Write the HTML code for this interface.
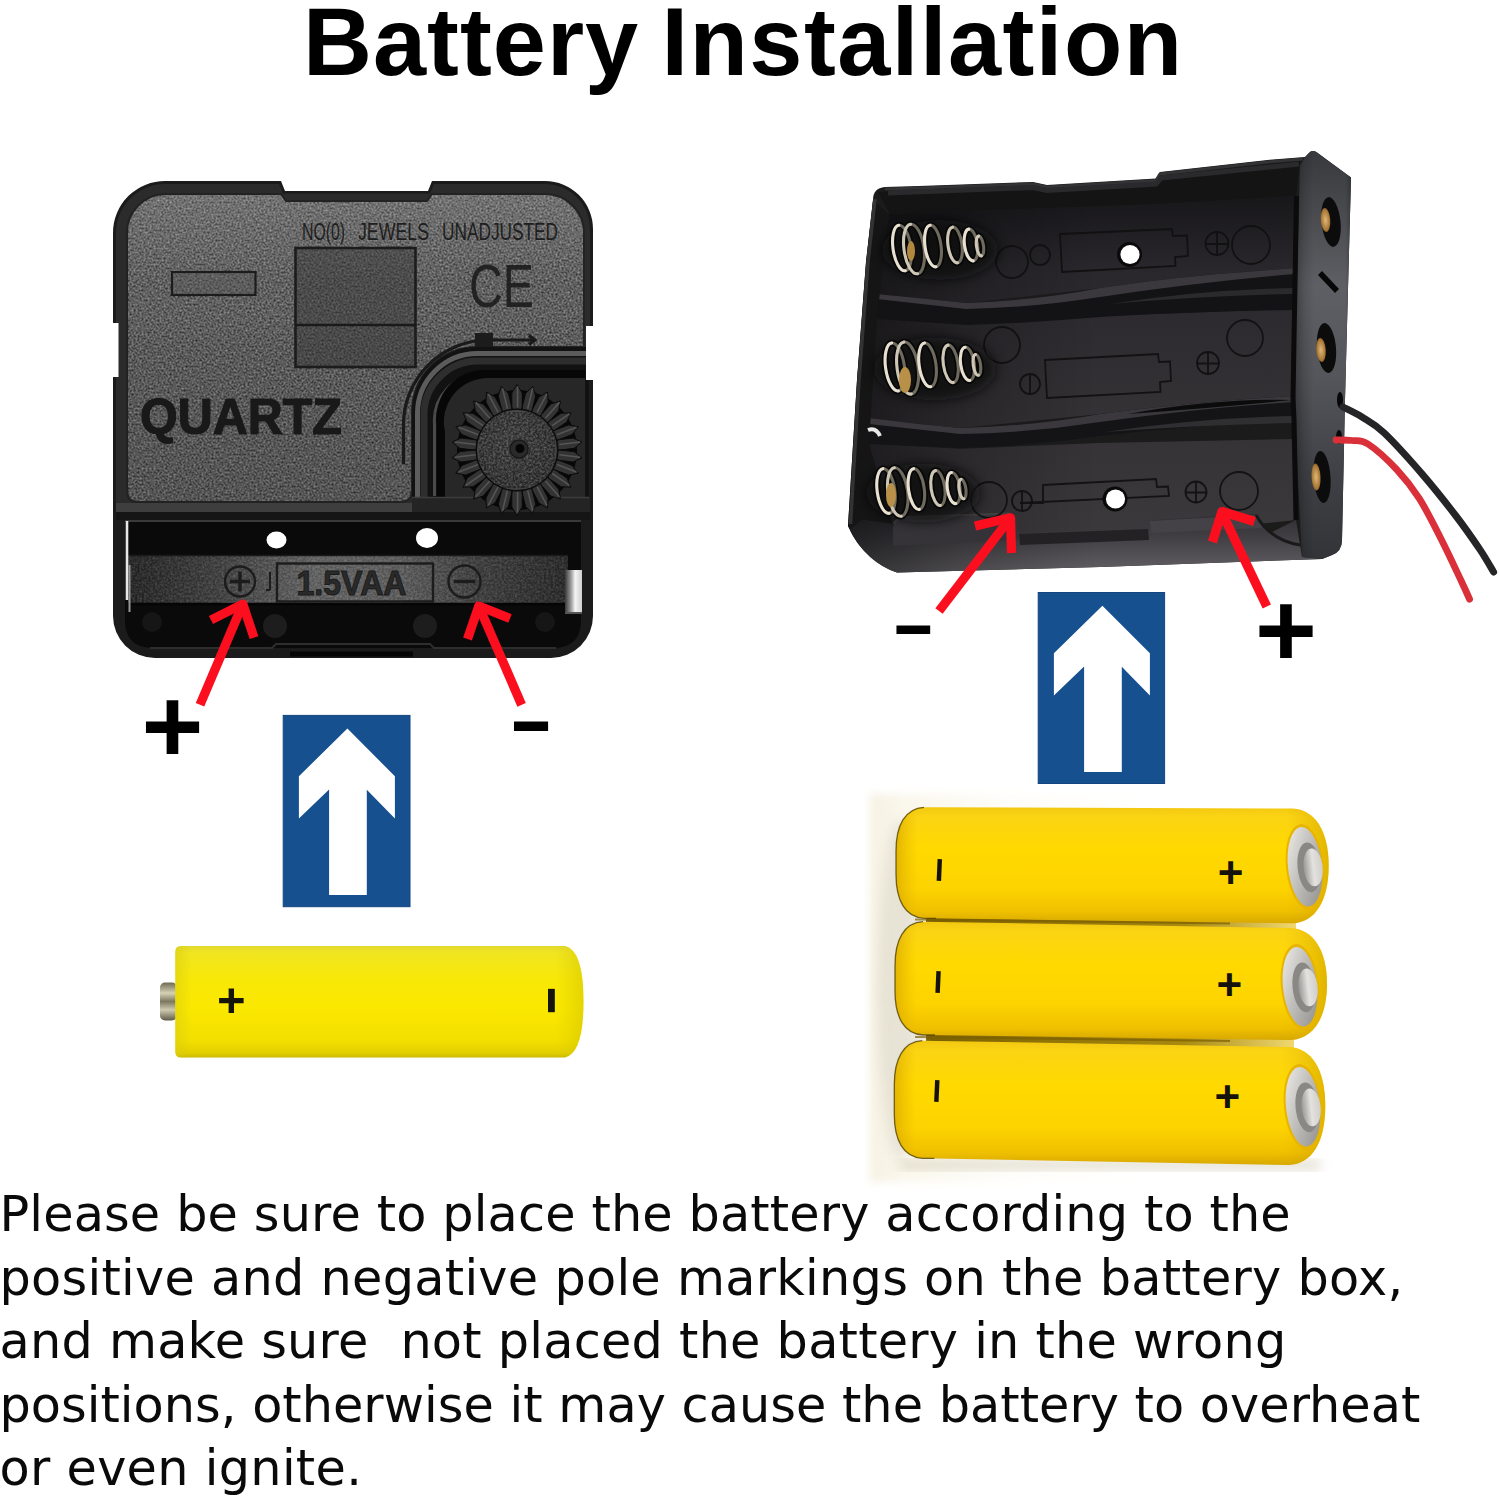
<!DOCTYPE html>
<html lang="en">
<head>
<meta charset="utf-8">
<title>Battery Installation</title>
<style>
html,body{margin:0;padding:0;background:#fff;}
body{width:1500px;height:1500px;position:relative;overflow:hidden;font-family:"Liberation Sans",sans-serif;}
#art{position:absolute;left:0;top:0;width:1500px;height:1500px;display:block;}
h1{position:absolute;left:303px;top:-13px;margin:0;font:bold 95.5px/110px "Liberation Sans",sans-serif;letter-spacing:1.02px;color:#000;white-space:nowrap;}
h1 span{letter-spacing:1.5px;}
h1{word-spacing:-5.3px;}
.ln{position:absolute;left:-0.5px;margin:0;font:49.3px/64px "DejaVu Sans","Liberation Sans",sans-serif;color:#0a0a0a;white-space:pre;}
</style>
</head>
<body>
<svg id="art" viewBox="0 0 1500 1500" width="1500" height="1500">
<defs>
<!--DEFS-->
<filter id="grain" x="0" y="0" width="100%" height="100%" color-interpolation-filters="sRGB">
<feTurbulence type="fractalNoise" baseFrequency="0.5" numOctaves="4" seed="7"/>
<feColorMatrix type="matrix" values="0.58 0 0 0 0.08  0.58 0 0 0 0.08  0.58 0 0 0 0.08  0 0 0 0 1"/>
</filter>
<filter id="grainD" x="0" y="0" width="100%" height="100%" color-interpolation-filters="sRGB">
<feTurbulence type="fractalNoise" baseFrequency="0.45" numOctaves="3" seed="11"/>
<feColorMatrix type="matrix" values="0.9 0 0 0 -0.28  0.9 0 0 0 -0.28  0.9 0 0 0 -0.28  0 0 0 0 1"/>
</filter>
<clipPath id="faceClip"><path d="M166 194 H281 L286 201 H427 L432 194 H545 A39 39 0 0 1 584 233 V347 H477 A65 65 0 0 0 412 412 V490 Q412 502 400 502 H137 Q127 502 127 490 V235 A39 39 0 0 1 166 194Z"/></clipPath>
<clipPath id="stripClip"><rect x="128" y="555" width="440" height="50"/></clipPath>
<linearGradient id="stripG" x1="0" y1="0" x2="1" y2="0"><stop offset="0" stop-color="#2a2a2a"/><stop offset="0.2" stop-color="#4c4c4c"/><stop offset="0.42" stop-color="#7a7a7a"/><stop offset="0.62" stop-color="#727272"/><stop offset="0.8" stop-color="#4a4a4a"/><stop offset="1" stop-color="#303030"/></linearGradient>
<clipPath id="hubClip"><circle cx="517" cy="450" r="40"/></clipPath>
<linearGradient id="faceShade" x1="0" y1="0" x2="0" y2="1">
<stop offset="0" stop-color="#fff" stop-opacity="0.13"/><stop offset="0.3" stop-color="#fff" stop-opacity="0.01"/><stop offset="0.5" stop-color="#000" stop-opacity="0.04"/><stop offset="1" stop-color="#000" stop-opacity="0.11"/>
</linearGradient>
<linearGradient id="silver" x1="0" y1="0" x2="1" y2="0">
<stop offset="0" stop-color="#3a3a3a"/><stop offset="0.35" stop-color="#9a9a9a"/><stop offset="0.6" stop-color="#f4f4f4"/><stop offset="1" stop-color="#cfcfcf"/>
</linearGradient>
<radialGradient id="hubG" cx="0.45" cy="0.4" r="0.7"><stop offset="0" stop-color="#585858"/><stop offset="1" stop-color="#3c3c3c"/></radialGradient>

<linearGradient id="boxFloor" gradientUnits="userSpaceOnUse" x1="0" y1="200" x2="0" y2="540"><stop offset="0" stop-color="#18171a"/><stop offset="0.2" stop-color="#29272b"/><stop offset="0.6" stop-color="#343135"/><stop offset="1" stop-color="#3c393d"/></linearGradient>
<linearGradient id="boxShadeL" gradientUnits="userSpaceOnUse" x1="850" y1="0" x2="1300" y2="0"><stop offset="0" stop-color="#000" stop-opacity="0.5"/><stop offset="0.25" stop-color="#000" stop-opacity="0.22"/><stop offset="0.55" stop-color="#000" stop-opacity="0"/><stop offset="1" stop-color="#000" stop-opacity="0"/></linearGradient>
<linearGradient id="boxFront" gradientUnits="userSpaceOnUse" x1="0" y1="512" x2="0" y2="572"><stop offset="0" stop-color="#2e2c30"/><stop offset="0.4" stop-color="#403e42"/><stop offset="1" stop-color="#626064"/></linearGradient>
<linearGradient id="panelG" x1="0" y1="0" x2="0" y2="1"><stop offset="0" stop-color="#38393d"/><stop offset="0.12" stop-color="#46474b"/><stop offset="0.33" stop-color="#5e5f64"/><stop offset="0.55" stop-color="#55565b"/><stop offset="0.8" stop-color="#3f4045"/><stop offset="1" stop-color="#333438"/></linearGradient>
<linearGradient id="panelH" x1="0" y1="0" x2="1" y2="0"><stop offset="0" stop-color="#000" stop-opacity="0.35"/><stop offset="0.18" stop-color="#000" stop-opacity="0.12"/><stop offset="0.35" stop-color="#000" stop-opacity="0"/><stop offset="0.9" stop-color="#000" stop-opacity="0"/><stop offset="1" stop-color="#000" stop-opacity="0.2"/></linearGradient>
<radialGradient id="brass" cx="0.5" cy="0.5" r="0.6"><stop offset="0" stop-color="#e0b878"/><stop offset="0.7" stop-color="#a87838"/><stop offset="1" stop-color="#5a3c10"/></radialGradient>

<linearGradient id="yelL" x1="0" y1="0" x2="0" y2="1">
<stop offset="0" stop-color="#e2d930"/><stop offset="0.06" stop-color="#f0e520"/><stop offset="0.3" stop-color="#f8e808"/><stop offset="0.55" stop-color="#fbe800"/><stop offset="0.85" stop-color="#f3df00"/><stop offset="0.96" stop-color="#e3cf00"/><stop offset="1" stop-color="#c9b800"/>
</linearGradient>
<linearGradient id="yelLend" x1="0" y1="0" x2="1" y2="0">
<stop offset="0" stop-color="#d8cc10" stop-opacity="0.55"/><stop offset="0.04" stop-color="#d8cc10" stop-opacity="0"/><stop offset="0.93" stop-color="#d8c800" stop-opacity="0"/><stop offset="1" stop-color="#cfc000" stop-opacity="0.5"/>
</linearGradient>
<linearGradient id="nubG" x1="0" y1="0" x2="0" y2="1">
<stop offset="0" stop-color="#6e6a55"/><stop offset="0.28" stop-color="#d6d2b6"/><stop offset="0.5" stop-color="#7c7860"/><stop offset="0.72" stop-color="#cfcbb0"/><stop offset="1" stop-color="#5e5a48"/>
</linearGradient>
<linearGradient id="yelR" x1="0" y1="0" x2="0" y2="1">
<stop offset="0" stop-color="#f2c810"/><stop offset="0.08" stop-color="#fbd414"/><stop offset="0.35" stop-color="#ffd900"/><stop offset="0.7" stop-color="#fdd300"/><stop offset="0.9" stop-color="#efc000"/><stop offset="1" stop-color="#d8a800"/>
</linearGradient>
<linearGradient id="yelRend" x1="0" y1="0" x2="1" y2="0">
<stop offset="0" stop-color="#d09c00" stop-opacity="0.6"/><stop offset="0.05" stop-color="#e0b000" stop-opacity="0"/><stop offset="0.9" stop-color="#e0b000" stop-opacity="0"/><stop offset="1" stop-color="#c89800" stop-opacity="0.55"/>
</linearGradient>
<linearGradient id="capG" x1="0" y1="0" x2="1" y2="1">
<stop offset="0" stop-color="#f0f0ee"/><stop offset="0.45" stop-color="#c2c0bc"/><stop offset="1" stop-color="#8e8c88"/>
</linearGradient>
<linearGradient id="capN" x1="0" y1="0" x2="1" y2="0">
<stop offset="0" stop-color="#9a9896"/><stop offset="0.5" stop-color="#e4e2de"/><stop offset="1" stop-color="#d0cecb"/>
</linearGradient>
<linearGradient id="bgR" x1="0" y1="0" x2="1" y2="0">
<stop offset="0" stop-color="#f6f1e2"/><stop offset="0.07" stop-color="#faf7ec"/><stop offset="0.3" stop-color="#fefdf9"/><stop offset="0.6" stop-color="#ffffff"/><stop offset="1" stop-color="#ffffff"/>
</linearGradient>
<linearGradient id="gapG" x1="0" y1="0" x2="1" y2="0"><stop offset="0" stop-color="#7a6000"/><stop offset="0.7" stop-color="#a88a10"/><stop offset="1" stop-color="#f0d870"/></linearGradient>
<filter id="blur4" x="-5%" y="-5%" width="110%" height="110%"><feGaussianBlur stdDeviation="4"/></filter>
<filter id="blur6" x="-20%" y="-20%" width="140%" height="140%"><feGaussianBlur stdDeviation="6"/></filter>
<!--/DEFS-->
</defs>
<!--CLOCK-->
<g id="clock">
<!-- outer body -->
<path d="M166 181 H281 L285 191 H428 L432 181 H545 A48 48 0 0 1 593 229 V616 A42 42 0 0 1 551 658 H155 A42 42 0 0 1 113 616 V233 A52 52 0 0 1 166 181Z" fill="#1b1b1b"/>
<path d="M166 184 H279 L283 193.500 H430 L434 184 H545 A45 45 0 0 1 590 229 V510 H116 V233 A49 49 0 0 1 166 184Z" fill="#2b2b2b"/>
<!-- textured face -->
<g clip-path="url(#faceClip)">
<rect x="120" y="190" width="470" height="316" fill="#626262"/>
<rect x="120" y="190" width="470" height="316" filter="url(#grain)"/>
<rect x="120" y="190" width="470" height="316" fill="url(#faceShade)"/>
</g>
<path d="M166 194 H281 L286 201 H427 L432 194 H545 A39 39 0 0 1 584 233 V347 H477 A65 65 0 0 0 412 412 V490 Q412 502 400 502 H137 Q127 502 127 490 V235 A39 39 0 0 1 166 194Z" fill="none" stroke="#222" stroke-width="2"/>
<!-- embossed labels -->
<text y="240" font-family="'Liberation Sans',sans-serif" font-size="23.5" fill="#1e1e1e" lengthAdjust="spacingAndGlyphs"><tspan x="302" textLength="43" lengthAdjust="spacingAndGlyphs">NO(0)</tspan><tspan x="345"> </tspan><tspan x="358" textLength="71" lengthAdjust="spacingAndGlyphs">JEWELS</tspan><tspan x="430"> </tspan><tspan x="442" textLength="116" lengthAdjust="spacingAndGlyphs">UNADJUSTED</tspan></text>
<rect x="172" y="272" width="83.500" height="23" fill="#555" fill-opacity="0.35" stroke="#1c1c1c" stroke-width="2.2"/>
<rect x="295.500" y="248" width="120" height="119" fill="#333" fill-opacity="0.45" stroke="#1c1c1c" stroke-width="2.6"/>
<path d="M296 325 H415" stroke="#1a1a1a" stroke-width="2.6"/>
<text x="469" y="307" font-family="'Liberation Sans',sans-serif" font-size="61" fill="#1c1c1c" fill-opacity="0.9" textLength="65" lengthAdjust="spacingAndGlyphs">CE</text>
<text x="140" y="434" font-family="'Liberation Sans',sans-serif" font-weight="bold" font-size="50" fill="#191919" stroke="#191919" stroke-width="1.2" textLength="202" lengthAdjust="spacingAndGlyphs">QUARTZ</text>
<path d="M403.500 464 V425 A85 85 0 0 1 488.500 340 H534 M529 335.500 L535 340 L529 344.500" fill="none" stroke="#1a1a1a" stroke-width="3.2"/>
<!-- band under face -->
<rect x="116" y="503" width="296" height="10" fill="#3e3e3e"/>
<rect x="116" y="512" width="474" height="8" fill="#151515"/>
<!-- gear housing -->
<rect x="475" y="333" width="18" height="14" fill="#1c1c1c"/>
<path d="M412 512 V412 A65 65 0 0 1 477 347 H589.500 V512Z" fill="#121212"/>
<path d="M417.500 512 V414 A60 60 0 0 1 477.500 353.500 H589" fill="none" stroke="#5c5c5c" stroke-width="5"/>
<path d="M424 512 V417 A54 54 0 0 1 478 361 H589" fill="none" stroke="#2e2e2e" stroke-width="7"/>
<path d="M434.500 496 V424 A46 46 0 0 1 480.500 374.500 H585" fill="none" stroke="#4a4a4a" stroke-width="3"/>
<path d="M437 497 V426 A48 48 0 0 1 485 370 H585 V497Z" fill="#070707"/>
<path d="M445 497 V432 A44 44 0 0 1 489 378 H585 V497Z" fill="#272727"/>
<rect x="412" y="497" width="178" height="15" fill="#242424"/>
<path d="M412 497.500 H589" stroke="#3c3c3c" stroke-width="1.5"/>
<!-- gear -->
<circle cx="517" cy="450" r="60" fill="#070707"/>
<path d="M554.1 459.7 L573.0 462.0 L582.0 457.9 L574.2 451.7 L555.3 449.4ZM550.7 468.3 L568.5 475.1 L578.2 473.2 L572.1 465.4 L554.4 458.6ZM545.3 475.9 L561.0 486.7 L570.9 487.2 L566.9 478.1 L551.2 467.3ZM538.3 481.9 L550.9 496.1 L560.4 499.0 L558.7 489.2 L546.1 475.0ZM530.1 486.1 L538.9 502.9 L547.4 508.0 L548.1 498.1 L539.3 481.2ZM521.0 488.1 L525.6 506.6 L532.7 513.6 L535.7 504.1 L531.1 485.7ZM511.8 488.0 L511.8 507.0 L517.0 515.5 L522.2 507.0 L522.2 488.0ZM502.9 485.7 L498.3 504.1 L501.3 513.6 L508.4 506.6 L513.0 488.1ZM494.7 481.2 L485.9 498.1 L486.6 508.0 L495.1 502.9 L503.9 486.1ZM487.9 475.0 L475.3 489.2 L473.6 499.0 L483.1 496.1 L495.7 481.9ZM482.8 467.3 L467.1 478.1 L463.1 487.2 L473.0 486.7 L488.7 475.9ZM479.6 458.6 L461.9 465.4 L455.8 473.2 L465.5 475.1 L483.3 468.3ZM478.7 449.4 L459.8 451.7 L452.0 457.9 L461.0 462.0 L479.9 459.7ZM479.9 440.3 L461.0 438.0 L452.0 442.1 L459.8 448.3 L478.7 450.6ZM483.3 431.7 L465.5 424.9 L455.8 426.8 L461.9 434.6 L479.6 441.4ZM488.7 424.1 L473.0 413.3 L463.1 412.8 L467.1 421.9 L482.8 432.7ZM495.7 418.1 L483.1 403.9 L473.6 401.0 L475.3 410.8 L487.9 425.0ZM503.9 413.9 L495.1 397.1 L486.6 392.0 L485.9 401.9 L494.7 418.8ZM513.0 411.9 L508.4 393.4 L501.3 386.4 L498.3 395.9 L502.9 414.3ZM522.2 412.0 L522.2 393.0 L517.0 384.5 L511.8 393.0 L511.8 412.0ZM531.1 414.3 L535.7 395.9 L532.7 386.4 L525.6 393.4 L521.0 411.9ZM539.3 418.8 L548.1 401.9 L547.4 392.0 L538.9 397.1 L530.1 413.9ZM546.1 425.0 L558.7 410.8 L560.4 401.0 L550.9 403.9 L538.3 418.1ZM551.2 432.7 L566.9 421.9 L570.9 412.8 L561.0 413.3 L545.3 424.1ZM554.4 441.4 L572.1 434.6 L578.2 426.8 L568.5 424.9 L550.7 431.7ZM555.3 450.6 L574.2 448.3 L582.0 442.1 L573.0 438.0 L554.1 440.3Z" fill="#333" stroke="#0a0a0a" stroke-width="1"/>
<path d="M559.3 454.7L580.1 457.2M556.9 464.5L576.5 471.9M552.2 473.5L569.4 485.4M545.5 481.0L559.4 496.8M537.1 486.8L546.9 505.4M527.7 490.4L532.7 510.8M517.6 491.6L517.6 512.6M507.5 490.4L502.5 510.8M498.1 486.8L488.3 505.4M489.7 481.0L475.8 496.8M483.0 473.5L465.8 485.4M478.3 464.5L458.7 471.9M475.9 454.7L455.1 457.2M475.9 444.5L455.1 442.0M478.3 434.7L458.7 427.3M483.0 425.7L465.8 413.8M489.7 418.2L475.8 402.4M498.1 412.4L488.3 393.8M507.5 408.8L502.5 388.4M517.6 407.6L517.6 386.6M527.7 408.8L532.7 388.4M537.1 412.4L546.9 393.8M545.5 418.2L559.4 402.4M552.2 425.7L569.4 413.8M556.9 434.7L576.5 427.3M559.3 444.5L580.1 442.0" stroke="#555" stroke-width="1.6" fill="none"/>
<circle cx="517" cy="450" r="41.500" fill="#0c0c0c"/>
<circle cx="517" cy="450" r="40" fill="url(#hubG)"/>
<g clip-path="url(#hubClip)" opacity="0.45"><rect x="479" y="412" width="76" height="76" filter="url(#grainD)"/></g>
<circle cx="519" cy="449" r="9" fill="#2a2a2a" stroke="#1a1a1a" stroke-width="1.5"/>
<circle cx="520" cy="448.500" r="4.500" fill="#050505"/>
<rect x="586" y="326" width="8" height="54" fill="#fff"/>
<rect x="112" y="323" width="6.500" height="54" fill="#fff"/>
<!-- battery compartment -->
<path d="M125 520 H581 V620 Q581 648 553 648 H153 Q125 648 125 620Z" fill="#0a0a0a"/>
<path d="M125 521 H581" stroke="#3a3a3a" stroke-width="2"/>
<rect x="128" y="555" width="440" height="50" fill="url(#stripG)"/>
<g clip-path="url(#stripClip)" opacity="0.28"><rect x="128" y="555" width="440" height="50" filter="url(#grainD)"/></g>
<path d="M128 555.500 H568" stroke="#1a1a1a" stroke-width="1.6"/>
<path d="M128 604 H568" stroke="#050505" stroke-width="2.5"/>
<ellipse cx="276.500" cy="540" rx="10" ry="8.500" fill="#fff"/>
<ellipse cx="427" cy="538" rx="11" ry="10" fill="#fff"/>
<circle cx="275" cy="626" r="12" fill="#1d1d1d"/>
<circle cx="425" cy="626" r="12" fill="#1d1d1d"/>
<circle cx="152" cy="622" r="10" fill="#161616"/>
<circle cx="545" cy="622" r="10" fill="#161616"/>
<!-- polarity marks -->
<g fill="none" stroke="#1c1c1c" stroke-width="2.4">
<circle cx="240" cy="581.500" r="15"/><path d="M230 581.500 H250 M240 571.500 V591.500" stroke-width="3.4"/>
<circle cx="464.500" cy="581.500" r="16"/><path d="M454 581.500 H475" stroke-width="3.4"/>
<rect x="277" y="563.500" width="156" height="38"/>
<path d="M270 572 V590 M266 590 H270" stroke-width="2"/>
</g>
<text x="296.500" y="595" font-family="'Liberation Sans',sans-serif" font-weight="bold" font-size="35" fill="#2a2a2a" stroke="#1a1a1a" stroke-width="1" textLength="110" lengthAdjust="spacingAndGlyphs">1.5VAA</text>
<!-- contacts -->
<rect x="565" y="570" width="17" height="43" fill="url(#silver)"/>
<path d="M565 613 H582" stroke="#555" stroke-width="2"/>
<path d="M127 521 V600" stroke="#e8e8e8" stroke-width="2.6"/>
<path d="M129.500 565 V612" stroke="#999" stroke-width="2"/>
<!-- bottom rim -->
<path d="M150 648 H272 L276 644 H430 L434 648 H556" stroke="#2e2e2e" stroke-width="2" fill="none"/>
<rect x="290" y="651.500" width="123" height="5" fill="#050505"/>
</g>
<!--/CLOCK-->
<!--BOX-->
<g id="box">
<!-- wires -->
<!-- silhouette -->
<path d="M873 200 Q873 188 885 187 L919 186 L1033 182 L1047 185 L1156 178.500 L1160 172 L1273 159.500 L1305 157 L1310 152 Q1313 150 1317 152.500 L1351 177.500 L1345 400 L1342 540 Q1342 552 1331 555.500 L1322 559 L1100 567 L897 572.600 Q866 562 848 526 L857 380 L866 262 Z" fill="#1b1b1b"/>
<!-- top wall inner face -->
<path d="M878 192 L1033 186 L1047 189 L1156 182.500 L1160 176 L1300 161 L1296 196 L1160 204 L890 214 Z" fill="#141414"/>
<path d="M885 189 L919 188 L1033 184 L1047 187 L1156 180.500 L1160 174 L1273 161.500 L1303 159" fill="none" stroke="#333336" stroke-width="3"/>
<path d="M888 193 L1033 187.500 L1047 190.500 L1156 184 L1161 178 L1299 164" fill="none" stroke="#2a2a2d" stroke-width="5"/>
<!-- floor rows -->
<path d="M889 214 L1160 204 L1296 196 L1294 272 L1100 288 L966 303 L878 296 Z" fill="url(#boxFloor)"/>
<path d="M889 214 L1160 204 L1296 196 L1294 272 L1100 288 L966 303 L878 296 Z" fill="url(#boxShadeL)"/>
<path d="M877 318 L966 324 L1100 316 L1294 309 L1293 398 L1100 414 L960 428 L870 420 Z" fill="url(#boxFloor)"/>
<path d="M877 318 L966 324 L1100 316 L1294 309 L1293 398 L1100 414 L960 428 L870 420 Z" fill="url(#boxShadeL)"/>
<path d="M869 444 L960 449 L1100 443 L1293 439 L1296 520 L1100 540 L893 545 L862 520 Z" fill="url(#boxFloor)"/>
<path d="M869 444 L960 449 L1100 443 L1293 439 L1296 520 L1100 540 L893 545 L862 520 Z" fill="url(#boxShadeL)"/>
<!-- divider 1 -->
<path d="M876 294 Q920 298 966 303 Q1040 300 1100 288 Q1180 276 1258 271 L1295 268 L1295 310 Q1200 311 1100 317 Q1030 323 966 325 L877 319 Z" fill="#131214"/>
<path d="M876 294 Q920 298 966 303 Q1040 300 1100 288 Q1180 276 1258 271 L1295 268 L1295 274 Q1200 282 1100 297 Q1030 308 966 309 L877 299 Z" fill="#3a383c"/>
<!-- divider 2 -->
<path d="M869 418 Q915 424 960 428 Q1035 426 1100 414 Q1190 402 1293 396 L1294 422 Q1200 424 1100 436 Q1030 446 960 448 L869 444 Z" fill="#141315"/>
<path d="M869 418 Q915 424 960 428 Q1035 426 1100 414 Q1190 402 1293 396 L1294 402 Q1200 408 1100 422 Q1030 433 960 434 L869 424 Z" fill="#3a383c"/>
<path d="M1110 304 Q1200 290 1293 288 L1293 294 Q1200 296 1110 304Z" fill="#2a292c"/>
<path d="M1128 414 Q1215 398 1292 400 Q1215 408 1128 414Z" fill="#0b0b0c"/>
<path d="M1105 432 Q1200 418 1293 416 L1293 423 Q1200 425 1105 432Z" fill="#2f2e31"/>
<!-- left wall -->
<path d="M873 200 L866 262 L857 380 L848 526 Q856 545 870 556 L893 526 L869 444 L877 318 L889 214 Z" fill="#151515"/>
<path d="M875 199 L868 262 L859 380 L850.500 524" fill="none" stroke="#333" stroke-width="3.5"/>
<!-- front wall -->
<path d="M862 520 L893 524 Q896 519 904 518.500 L1012 515 Q1018 516 1018 524 L1019 533 L1150 528 L1152 520 L1256 514 L1270 533 L1296 520 L1302 557 L1322 559 L1100 567 L897 572.600 Q866 562 850 530 Z" fill="url(#boxFront)"/>
<path d="M862 520 L893 524 Q896 519 904 518.500 L1012 515 Q1018 516 1018 524 L1019 533 L1150 528 L1152 520 L1256 514 L1270 533 L1296 520 L1302 557 L1322 559 L1100 567 L897 572.600 Q866 562 850 530 Z" fill="url(#boxShadeL)"/>
<path d="M893 528 Q895 518 905 517 L1010 513.500 Q1017 514 1017.500 522 L1018 540 L893 546 Z" fill="#353337"/>
<path d="M894 524 Q896 518 905 517 L1010 513.500" fill="none" stroke="#404040" stroke-width="2.2"/>
<path d="M1019 534 L1148 529 L1149 540 L1020 545 Z" fill="#232124"/>
<path d="M1150 521 L1256 515 L1262 528 L1151 533 Z" fill="#444246"/>
<path d="M1256 515 Q1270 540 1300 545" fill="none" stroke="#1a1a1a" stroke-width="3"/>
<!-- right panel -->
<path d="M1305 157 L1310 152 Q1313 150 1317 152.500 L1351 177.500 L1345 400 L1342 540 Q1342 552 1331 555.500 L1322 559 L1302 557 L1294 400 L1300 166 Z" fill="url(#panelG)"/>
<path d="M1305 157 L1310 152 Q1313 150 1317 152.500 L1351 177.500 L1345 400 L1342 540 Q1342 552 1331 555.500 L1322 559 L1302 557 L1294 400 L1300 166 Z" fill="url(#panelH)"/>
<path d="M1296.500 196 L1293 398 L1294 420 L1296 520" fill="none" stroke="#0b0b0b" stroke-width="5"/>
<!-- panel holes -->
<g>
<ellipse cx="1331" cy="222" rx="9.500" ry="25" transform="rotate(-6 1331 222)" fill="#0c0c0d"/>
<ellipse cx="1325.500" cy="220" rx="4.800" ry="12" transform="rotate(-4 1325.500 220)" fill="url(#brass)"/>
<ellipse cx="1326.500" cy="348" rx="9.500" ry="25" transform="rotate(-5 1326.500 348)" fill="#0c0c0d"/>
<ellipse cx="1321" cy="350" rx="4.800" ry="12" transform="rotate(-4 1321 350)" fill="url(#brass)"/>
<ellipse cx="1322" cy="477" rx="8.500" ry="26" transform="rotate(-4 1322 477)" fill="#0c0c0d"/>
<ellipse cx="1316" cy="477" rx="4.600" ry="13.500" transform="rotate(-3 1316 477)" fill="url(#brass)"/>
<path d="M1320 273 L1337 291" stroke="#070707" stroke-width="5.500"/>
<ellipse cx="1340" cy="400" rx="3" ry="8" fill="#080808"/>
<ellipse cx="1339" cy="437" rx="3" ry="7" fill="#080808"/>
</g>
<path d="M1343 407 C1346.2 408.7 1355.2 412.7 1362 417 C1368.8 421.3 1373.9 423.2 1384 432.8 C1394.1 442.4 1410.4 460.5 1422.4 474.4 C1434.4 488.3 1446.4 503.5 1456 516 C1465.6 528.5 1473.7 540.3 1480 549.6 C1486.3 558.9 1491.3 568.3 1493.6 572" fill="none" stroke="#252527" stroke-width="7" stroke-linecap="round"/>
<path d="M1336 440 C1338.7 440.1 1346.7 439.8 1352 440.5 C1357.3 441.2 1360.5 439.1 1368 444 C1375.5 448.9 1388.3 460.5 1396.8 469.6 C1405.3 478.7 1411.7 486.7 1419.2 498.4 C1426.7 510.1 1434.7 526.4 1441.6 540 C1448.5 553.6 1456.1 570.1 1460.8 580 C1465.5 589.9 1468.1 596.0 1469.6 599.2" fill="none" stroke="#d9303a" stroke-width="6.8" stroke-linecap="round"/>
<!-- floor markings -->
<g fill="none" stroke="#101010" stroke-width="1.8" stroke-opacity="0.9">
<path d="M1060 234 L1172 229 L1173 236 L1187 235.500 L1188 256 L1175 257 L1175.500 266 L1062 272 Z"/>
<circle cx="1217" cy="243.500" r="11.500"/><path d="M1206 244 H1228 M1217 232.500 V255"/>
<circle cx="1251" cy="245" r="19"/>
<circle cx="1012" cy="262" r="16"/><circle cx="1040" cy="255" r="10"/>
<path d="M1045 360 L1158 354 L1159 362 L1170 361.500 L1171 381 L1160 382 L1160.500 392 L1047 398 Z"/>
<circle cx="1208" cy="363" r="11"/><path d="M1197 363.500 H1219 M1208 352 V374.500"/>
<circle cx="1245" cy="338" r="18"/>
<circle cx="1030" cy="384" r="10"/><path d="M1030 375 V393"/>
<circle cx="1002" cy="345" r="18"/>
<path d="M1043 485 L1156 479 L1157 487 L1168 486.500 L1169 496 L1020 503 L1043 503 Z"/>
<circle cx="1196" cy="492" r="10.500"/><path d="M1185.500 492.500 H1206.500 M1196 481.500 V503"/>
<circle cx="1239" cy="491" r="19"/>
<circle cx="989" cy="500" r="18"/><circle cx="1022" cy="501" r="10"/><path d="M1022 492 V510"/>
</g>
<circle cx="1129.500" cy="254.500" r="12.500" fill="#0a0a0a"/>
<circle cx="1130" cy="254.500" r="9.600" fill="#fff"/>
<circle cx="1115" cy="499" r="12.500" fill="#0a0a0a"/>
<circle cx="1115.500" cy="499" r="9.600" fill="#fff"/>
<!-- springs -->
<ellipse cx="940.0" cy="250" rx="58.0" ry="30.0" fill="#09090a" opacity="0.75" filter="url(#blur6)"/>
<ellipse cx="902.0" cy="248.0" rx="9.0" ry="23.0" transform="rotate(-8 902.0 248.0)" fill="none" stroke="#070707" stroke-width="6.5"/>
<ellipse cx="914.0" cy="249.0" rx="10.0" ry="25.0" transform="rotate(-8 914.0 249.0)" fill="none" stroke="#070707" stroke-width="6.5"/>
<ellipse cx="933.0" cy="246.0" rx="8.0" ry="21.0" transform="rotate(-8 933.0 246.0)" fill="none" stroke="#070707" stroke-width="6.5"/>
<ellipse cx="955.0" cy="245.0" rx="7.0" ry="18.0" transform="rotate(-8 955.0 245.0)" fill="none" stroke="#070707" stroke-width="6.5"/>
<ellipse cx="971.0" cy="245.0" rx="6.5" ry="16.0" transform="rotate(-8 971.0 245.0)" fill="none" stroke="#070707" stroke-width="6.5"/>
<ellipse cx="980.0" cy="246.0" rx="3.5" ry="10.0" transform="rotate(-8 980.0 246.0)" fill="none" stroke="#070707" stroke-width="6.5"/>
<g transform="rotate(-8 902.0 248.0)" fill="none" stroke-width="3.1" stroke-linecap="round"><path d="M902.0 225.0 A9.0 23.0 0 0 1 902.0 271.0" stroke="#6f6a5e"/><path d="M902.0 271.0 A9.0 23.0 0 0 1 902.0 225.0" stroke="#e8e1d2"/></g>
<g transform="rotate(-8 914.0 249.0)" fill="none" stroke-width="3.1" stroke-linecap="round"><path d="M914.0 224.0 A10.0 25.0 0 0 1 914.0 274.0" stroke="#6f6a5e"/><path d="M914.0 274.0 A10.0 25.0 0 0 1 914.0 224.0" stroke="#cfc7b5"/></g>
<g transform="rotate(-8 933.0 246.0)" fill="none" stroke-width="3.1" stroke-linecap="round"><path d="M933.0 225.0 A8.0 21.0 0 0 1 933.0 267.0" stroke="#6f6a5e"/><path d="M933.0 267.0 A8.0 21.0 0 0 1 933.0 225.0" stroke="#e8e1d2"/></g>
<g transform="rotate(-8 955.0 245.0)" fill="none" stroke-width="3.1" stroke-linecap="round"><path d="M955.0 227.0 A7.0 18.0 0 0 1 955.0 263.0" stroke="#6f6a5e"/><path d="M955.0 263.0 A7.0 18.0 0 0 1 955.0 227.0" stroke="#cfc7b5"/></g>
<g transform="rotate(-8 971.0 245.0)" fill="none" stroke-width="3.1" stroke-linecap="round"><path d="M971.0 229.0 A6.5 16.0 0 0 1 971.0 261.0" stroke="#6f6a5e"/><path d="M971.0 261.0 A6.5 16.0 0 0 1 971.0 229.0" stroke="#e8e1d2"/></g>
<g transform="rotate(-8 980.0 246.0)" fill="none" stroke-width="3.1" stroke-linecap="round"><path d="M980.0 236.0 A3.5 10.0 0 0 1 980.0 256.0" stroke="#6f6a5e"/><path d="M980.0 256.0 A3.5 10.0 0 0 1 980.0 236.0" stroke="#cfc7b5"/></g>
<ellipse cx="934.9" cy="369" rx="60.900000000000006" ry="31.5" fill="#09090a" opacity="0.75" filter="url(#blur6)"/>
<ellipse cx="895.0" cy="367.0" rx="9.450000000000001" ry="24.150000000000002" transform="rotate(-8 895.0 367.0)" fill="none" stroke="#070707" stroke-width="6.5"/>
<ellipse cx="907.6" cy="368.05" rx="10.5" ry="26.25" transform="rotate(-8 907.6 368.05)" fill="none" stroke="#070707" stroke-width="6.5"/>
<ellipse cx="927.55" cy="364.9" rx="8.4" ry="22.05" transform="rotate(-8 927.55 364.9)" fill="none" stroke="#070707" stroke-width="6.5"/>
<ellipse cx="950.65" cy="363.85" rx="7.3500000000000005" ry="18.900000000000002" transform="rotate(-8 950.65 363.85)" fill="none" stroke="#070707" stroke-width="6.5"/>
<ellipse cx="967.45" cy="363.85" rx="6.825" ry="16.8" transform="rotate(-8 967.45 363.85)" fill="none" stroke="#070707" stroke-width="6.5"/>
<ellipse cx="976.9" cy="364.9" rx="3.6750000000000003" ry="10.5" transform="rotate(-8 976.9 364.9)" fill="none" stroke="#070707" stroke-width="6.5"/>
<g transform="rotate(-8 895.0 367.0)" fill="none" stroke-width="3.1" stroke-linecap="round"><path d="M895.0 342.85 A9.450000000000001 24.150000000000002 0 0 1 895.0 391.15" stroke="#6f6a5e"/><path d="M895.0 391.15 A9.450000000000001 24.150000000000002 0 0 1 895.0 342.85" stroke="#e8e1d2"/></g>
<g transform="rotate(-8 907.6 368.05)" fill="none" stroke-width="3.1" stroke-linecap="round"><path d="M907.6 341.8 A10.5 26.25 0 0 1 907.6 394.3" stroke="#6f6a5e"/><path d="M907.6 394.3 A10.5 26.25 0 0 1 907.6 341.8" stroke="#cfc7b5"/></g>
<g transform="rotate(-8 927.55 364.9)" fill="none" stroke-width="3.1" stroke-linecap="round"><path d="M927.55 342.84999999999997 A8.4 22.05 0 0 1 927.55 386.95" stroke="#6f6a5e"/><path d="M927.55 386.95 A8.4 22.05 0 0 1 927.55 342.84999999999997" stroke="#e8e1d2"/></g>
<g transform="rotate(-8 950.65 363.85)" fill="none" stroke-width="3.1" stroke-linecap="round"><path d="M950.65 344.95000000000005 A7.3500000000000005 18.900000000000002 0 0 1 950.65 382.75" stroke="#6f6a5e"/><path d="M950.65 382.75 A7.3500000000000005 18.900000000000002 0 0 1 950.65 344.95000000000005" stroke="#cfc7b5"/></g>
<g transform="rotate(-8 967.45 363.85)" fill="none" stroke-width="3.1" stroke-linecap="round"><path d="M967.45 347.05 A6.825 16.8 0 0 1 967.45 380.65000000000003" stroke="#6f6a5e"/><path d="M967.45 380.65000000000003 A6.825 16.8 0 0 1 967.45 347.05" stroke="#e8e1d2"/></g>
<g transform="rotate(-8 976.9 364.9)" fill="none" stroke-width="3.1" stroke-linecap="round"><path d="M976.9 354.4 A3.6750000000000003 10.5 0 0 1 976.9 375.4" stroke="#6f6a5e"/><path d="M976.9 375.4 A3.6750000000000003 10.5 0 0 1 976.9 354.4" stroke="#cfc7b5"/></g>
<ellipse cx="923.24" cy="493" rx="56.839999999999996" ry="29.4" fill="#09090a" opacity="0.75" filter="url(#blur6)"/>
<ellipse cx="886.0" cy="491.0" rx="8.82" ry="22.54" transform="rotate(-8 886.0 491.0)" fill="none" stroke="#070707" stroke-width="6.5"/>
<ellipse cx="897.76" cy="491.98" rx="9.8" ry="24.5" transform="rotate(-8 897.76 491.98)" fill="none" stroke="#070707" stroke-width="6.5"/>
<ellipse cx="916.38" cy="489.04" rx="7.84" ry="20.58" transform="rotate(-8 916.38 489.04)" fill="none" stroke="#070707" stroke-width="6.5"/>
<ellipse cx="937.94" cy="488.06" rx="6.859999999999999" ry="17.64" transform="rotate(-8 937.94 488.06)" fill="none" stroke="#070707" stroke-width="6.5"/>
<ellipse cx="953.62" cy="488.06" rx="6.37" ry="15.68" transform="rotate(-8 953.62 488.06)" fill="none" stroke="#070707" stroke-width="6.5"/>
<ellipse cx="962.44" cy="489.04" rx="3.4299999999999997" ry="9.8" transform="rotate(-8 962.44 489.04)" fill="none" stroke="#070707" stroke-width="6.5"/>
<g transform="rotate(-8 886.0 491.0)" fill="none" stroke-width="3.1" stroke-linecap="round"><path d="M886.0 468.46 A8.82 22.54 0 0 1 886.0 513.54" stroke="#6f6a5e"/><path d="M886.0 513.54 A8.82 22.54 0 0 1 886.0 468.46" stroke="#e8e1d2"/></g>
<g transform="rotate(-8 897.76 491.98)" fill="none" stroke-width="3.1" stroke-linecap="round"><path d="M897.76 467.48 A9.8 24.5 0 0 1 897.76 516.48" stroke="#6f6a5e"/><path d="M897.76 516.48 A9.8 24.5 0 0 1 897.76 467.48" stroke="#cfc7b5"/></g>
<g transform="rotate(-8 916.38 489.04)" fill="none" stroke-width="3.1" stroke-linecap="round"><path d="M916.38 468.46000000000004 A7.84 20.58 0 0 1 916.38 509.62" stroke="#6f6a5e"/><path d="M916.38 509.62 A7.84 20.58 0 0 1 916.38 468.46000000000004" stroke="#e8e1d2"/></g>
<g transform="rotate(-8 937.94 488.06)" fill="none" stroke-width="3.1" stroke-linecap="round"><path d="M937.94 470.42 A6.859999999999999 17.64 0 0 1 937.94 505.7" stroke="#6f6a5e"/><path d="M937.94 505.7 A6.859999999999999 17.64 0 0 1 937.94 470.42" stroke="#cfc7b5"/></g>
<g transform="rotate(-8 953.62 488.06)" fill="none" stroke-width="3.1" stroke-linecap="round"><path d="M953.62 472.38 A6.37 15.68 0 0 1 953.62 503.74" stroke="#6f6a5e"/><path d="M953.62 503.74 A6.37 15.68 0 0 1 953.62 472.38" stroke="#e8e1d2"/></g>
<g transform="rotate(-8 962.44 489.04)" fill="none" stroke-width="3.1" stroke-linecap="round"><path d="M962.44 479.24 A3.4299999999999997 9.8 0 0 1 962.44 498.84000000000003" stroke="#6f6a5e"/><path d="M962.44 498.84000000000003 A3.4299999999999997 9.8 0 0 1 962.44 479.24" stroke="#cfc7b5"/></g>
<ellipse cx="905" cy="380" rx="6" ry="13" fill="#b89048"/>
<ellipse cx="891" cy="495" rx="5" ry="12" fill="#b89048"/>
<ellipse cx="911" cy="251" rx="4" ry="10" fill="#b08840"/>
<path d="M868 430 q8 -3 12 6" stroke="#e8e8e8" stroke-width="4" fill="none"/>
</g>
<!--/BOX-->
<!--BATT1-->
<g id="battL">
<rect x="160" y="982.500" width="17" height="38" rx="5" fill="url(#nubG)"/>
<path d="M181 946 H565 Q583.500 950 583.500 1001.500 Q583.500 1053 565 1057.500 H181 Q175.300 1057.500 175.300 1051.500 V952 Q175.300 946 181 946Z" fill="url(#yelL)"/>
<path d="M181 946 H565 Q583.500 950 583.500 1001.500 Q583.500 1053 565 1057.500 H181 Q175.300 1057.500 175.300 1051.500 V952 Q175.300 946 181 946Z" fill="url(#yelLend)"/>
<text x="231.400" y="1017.200" text-anchor="middle" font-family="'Liberation Sans',sans-serif" font-weight="bold" font-size="49" fill="#15140a">+</text>
<text transform="translate(551.400,1000.500) rotate(90) scale(1.586,1)" x="0" y="15.400" text-anchor="middle" font-family="'Liberation Sans',sans-serif" font-weight="bold" font-size="58" fill="#15140a">-</text>
</g>
<!--/BATT1-->
<!--BATT3-->
<g id="battR">
<rect x="870" y="794" width="470" height="388" fill="url(#bgR)" filter="url(#blur4)"/>
<path d="M926 915 L1296 919 L1296 932 L926 926 Z" fill="url(#gapG)"/>
<path d="M926 1031 L1294 1036 L1294 1050 L926 1044 Z" fill="url(#gapG)"/>
<ellipse cx="900" cy="990" rx="22" ry="170" fill="#d9d4c4" opacity="0.55" filter="url(#blur6)"/>
<rect x="900" y="1160" width="420" height="10" fill="#cfc8b0" opacity="0.6" filter="url(#blur6)"/>
<g id="battR3">
<path d="M922.3 1040.7 L1289.3 1047 C1311.3 1048 1325.3 1069 1325.3 1106.0 C1325.3 1143 1311.3 1164 1289.3 1165 L922.3 1158.3 C903.3 1157.3 894.3 1140.3 894.3 1114.3 L894.3 1084.7 C894.3 1058.7 903.3 1041.7 922.3 1040.7Z" fill="url(#yelR)"/>
<path d="M922.3 1040.7 L1289.3 1047 C1311.3 1048 1325.3 1069 1325.3 1106.0 C1325.3 1143 1311.3 1164 1289.3 1165 L922.3 1158.3 C903.3 1157.3 894.3 1140.3 894.3 1114.3 L894.3 1084.7 C894.3 1058.7 903.3 1041.7 922.3 1040.7Z" fill="url(#yelRend)"/>
<path d="M934.3 1158.3 L922.3 1158.3 C903.3 1157.3 894.3 1140.3 894.3 1114.3 L894.3 1084.7 C894.3 1058.7 903.3 1041.7 922.3 1040.7" fill="none" stroke="#4a3c00" stroke-width="1.3" stroke-opacity="0.75"/>
<ellipse cx="1303" cy="1106.7" rx="19" ry="43" transform="rotate(-6 1303 1106.7)" fill="#e8b400"/>
<ellipse cx="1303" cy="1106.7" rx="17" ry="40" transform="rotate(-6 1303 1106.7)" fill="url(#capG)"/>
<ellipse cx="1307" cy="1107.7" rx="11.500" ry="25" transform="rotate(-6 1303 1106.7)" fill="#8a8884"/>
<ellipse cx="1311" cy="1108.2" rx="9.500" ry="19" transform="rotate(-6 1303 1106.7)" fill="url(#capN)"/>
<text x="1227.3" y="1112.3" text-anchor="middle" font-family="'Liberation Sans',sans-serif" font-weight="bold" font-size="44" fill="#14120a">+</text>
<text transform="translate(937,1091) rotate(92.500) scale(2.3,1)" x="0" y="9.900" text-anchor="middle" font-family="'Liberation Sans',sans-serif" font-weight="bold" font-size="37.5" fill="#14120a">-</text>
</g><g id="battR2">
<path d="M923 921.7 L1291 928 C1313 929 1327 950 1327 984.0 C1327 1018 1313 1039 1291 1040 L923 1035 C904 1034 895 1017 895 991 L895 965.7 C895 939.7 904 922.7 923 921.7Z" fill="url(#yelR)"/>
<path d="M923 921.7 L1291 928 C1313 929 1327 950 1327 984.0 C1327 1018 1313 1039 1291 1040 L923 1035 C904 1034 895 1017 895 991 L895 965.7 C895 939.7 904 922.7 923 921.7Z" fill="url(#yelRend)"/>
<path d="M935 1035 L923 1035 C904 1034 895 1017 895 991 L895 965.7 C895 939.7 904 922.7 923 921.7" fill="none" stroke="#4a3c00" stroke-width="1.3" stroke-opacity="0.75"/>
<ellipse cx="1300" cy="986.7" rx="19" ry="43" transform="rotate(-6 1300 986.7)" fill="#e8b400"/>
<ellipse cx="1300" cy="986.7" rx="17" ry="40" transform="rotate(-6 1300 986.7)" fill="url(#capG)"/>
<ellipse cx="1304" cy="987.7" rx="11.500" ry="25" transform="rotate(-6 1300 986.7)" fill="#8a8884"/>
<ellipse cx="1308" cy="988.2" rx="9.500" ry="19" transform="rotate(-6 1300 986.7)" fill="url(#capN)"/>
<text x="1229.3" y="1000" text-anchor="middle" font-family="'Liberation Sans',sans-serif" font-weight="bold" font-size="44" fill="#14120a">+</text>
<text transform="translate(938.3,982) rotate(92.500) scale(2.3,1)" x="0" y="9.900" text-anchor="middle" font-family="'Liberation Sans',sans-serif" font-weight="bold" font-size="37.5" fill="#14120a">-</text>
</g><g id="battR1">
<path d="M924 807.3 L1292.7 808.5 C1314.7 809.5 1328.7 830.5 1328.7 865.9 C1328.7 901.3 1314.7 922.3 1292.7 923.3 L924 918.3 C905 917.3 896 900.3 896 874.3 L896 851.3 C896 825.3 905 808.3 924 807.3Z" fill="url(#yelR)"/>
<path d="M924 807.3 L1292.7 808.5 C1314.7 809.5 1328.7 830.5 1328.7 865.9 C1328.7 901.3 1314.7 922.3 1292.7 923.3 L924 918.3 C905 917.3 896 900.3 896 874.3 L896 851.3 C896 825.3 905 808.3 924 807.3Z" fill="url(#yelRend)"/>
<path d="M936 918.3 L924 918.3 C905 917.3 896 900.3 896 874.3 L896 851.3 C896 825.3 905 808.3 924 807.3" fill="none" stroke="#4a3c00" stroke-width="1.3" stroke-opacity="0.75"/>
<ellipse cx="1305" cy="866.7" rx="19" ry="43" transform="rotate(-6 1305 866.7)" fill="#e8b400"/>
<ellipse cx="1305" cy="866.7" rx="17" ry="40" transform="rotate(-6 1305 866.7)" fill="url(#capG)"/>
<ellipse cx="1309" cy="867.7" rx="11.500" ry="25" transform="rotate(-6 1305 866.7)" fill="#8a8884"/>
<ellipse cx="1313" cy="868.2" rx="9.500" ry="19" transform="rotate(-6 1305 866.7)" fill="url(#capN)"/>
<text x="1230.7" y="888.3" text-anchor="middle" font-family="'Liberation Sans',sans-serif" font-weight="bold" font-size="44" fill="#14120a">+</text>
<text transform="translate(939.6,870) rotate(92.500) scale(2.3,1)" x="0" y="9.900" text-anchor="middle" font-family="'Liberation Sans',sans-serif" font-weight="bold" font-size="37.5" fill="#14120a">-</text>
</g>
<path d="M915 919.500 L1230 923.500" stroke="#7a5c00" stroke-width="2" stroke-opacity="0.7"/>
<path d="M915 1037 L1230 1041" stroke="#7a5c00" stroke-width="2" stroke-opacity="0.7"/>
</g>
<!--/BATT3-->
<!--ARROWS-->
<g id="blueL" transform="translate(283.2,715.4)">
<rect width="126.8" height="191.3" fill="#17508f" stroke="#154580" stroke-width="1"/>
<path d="M64.2 13.2 L111.7 60.8 V103.1 L83.6 74.3 V179.6 H45.9 V74 L15.7 103.1 V60.8 Z" fill="#fff"/>
</g>
<g id="blueR" transform="translate(1038.2,592.5)">
<rect width="126.4" height="191" fill="#17508f" stroke="#154580" stroke-width="1"/>
<path d="M64.2 13.2 L111.7 60.8 V103.1 L83.6 74.3 V179.6 H45.9 V74 L15.7 103.1 V60.8 Z" fill="#fff"/>
</g>
<g fill="none" stroke="#fb0f1e" stroke-width="9.2" stroke-linecap="butt" stroke-linejoin="round">
<path d="M200 704.8 L242.4 605"/>
<path d="M211 620 L242.8 604 L254 637.600"/>
<path d="M521.600 704.800 L479.200 607"/>
<path d="M467.500 639 L478.800 606 L510 618.500"/>
<path d="M939 611 L1010 518.500"/>
<path d="M975 526 L1010.500 517.800 L1011.500 553"/>
<path d="M1266.800 606.600 L1222 512.800"/>
<path d="M1212.400 542 L1222 511.500 L1254.500 521.500"/>
</g>
<g font-family="'Liberation Sans',sans-serif" fill="#000" text-anchor="middle" font-weight="bold">
<text id="plusL" x="172.5" y="762.3" font-size="106">+</text>
<text id="minusL" transform="translate(531,746.5) scale(1.68,1)" font-size="80">-</text>
<text id="minusR" transform="translate(913.5,648) scale(1.9,1)" font-size="70">-</text>
<text id="plusR" x="1286" y="665.8" font-size="106">+</text>
</g>
</svg>
<h1>Battery <span>Installation</span></h1>
<p class="ln" style="top:1182px;letter-spacing:0.143px">Please be sure to place the battery according to the</p>
<p class="ln" style="top:1245.5px;letter-spacing:0.280px">positive and negative pole markings on the battery box,</p>
<p class="ln" style="top:1309px;letter-spacing:0.244px">and make sure  not placed the battery in the wrong</p>
<p class="ln" style="top:1372.6px;letter-spacing:0.035px">positions, otherwise it may cause the battery to overheat</p>
<p class="ln" style="top:1436.2px;letter-spacing:0.300px">or even ignite.</p>
</body>
</html>
